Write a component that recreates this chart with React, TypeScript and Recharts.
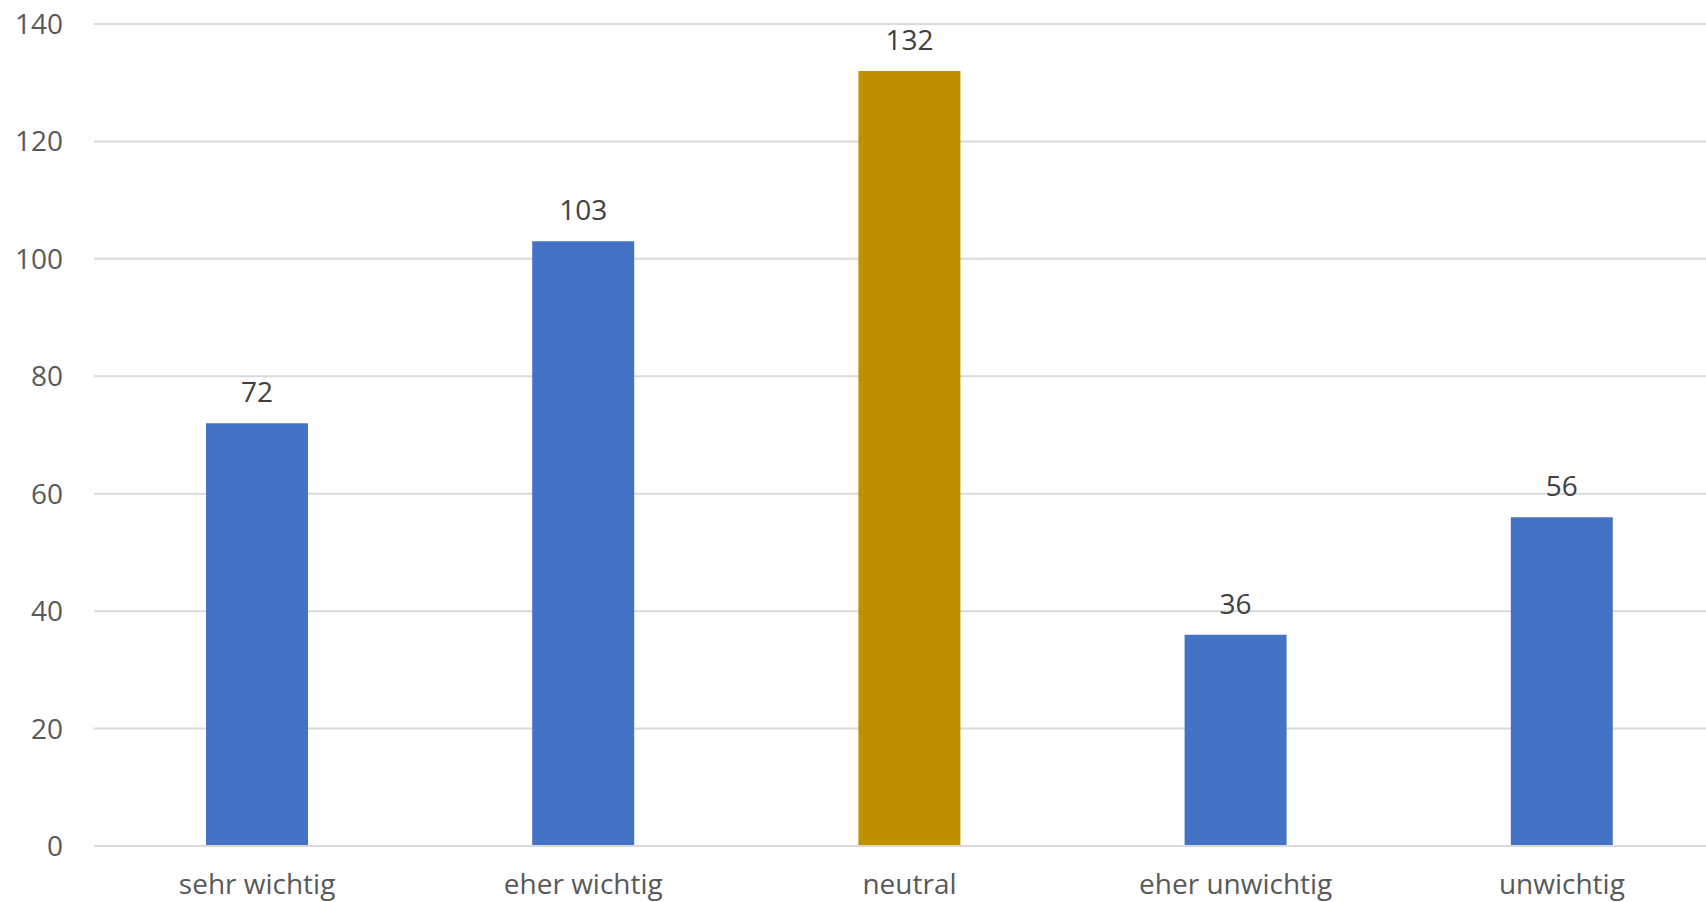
import React from 'react';
import { BarChart, Bar, XAxis, YAxis, CartesianGrid, LabelList, Cell } from 'recharts';

const categories = ['sehr wichtig', 'eher wichtig', 'neutral', 'eher unwichtig', 'unwichtig'];
const counts = [72, 103, 132, 36, 56];
const barColors = ['#4472C4', '#4472C4', '#BF9000', '#4472C4', '#4472C4'];
const yTicks = [0, 20, 40, 60, 80, 100, 120, 140];

const data = categories.map((name, i) => ({ name, value: counts[i] }));

const FONT = '"Open Sans", sans-serif';

export default function App() {
  return (
    <div style={{ position: 'absolute', left: 0, top: 0, width: 1706, height: 902, overflow: 'hidden', background: '#fff' }}>
      <BarChart
        width={1725}
        height={902}
        data={data}
        margin={{ top: 24, right: 0, left: 0, bottom: 0 }}
        barSize={102}
      >
        <CartesianGrid vertical={false} stroke="#D9D9D9" strokeWidth={2} />
        <XAxis
          dataKey="name"
          height={56}
          axisLine={{ stroke: '#D9D9D9', strokeWidth: 2 }}
          tickLine={false}
          tickSize={0}
          tickMargin={28}
          interval={0}
          tick={{ fill: '#595959', fontSize: 28, fontFamily: FONT }}
        />
        <YAxis
          width={94}
          domain={[0, 140]}
          ticks={yTicks}
          axisLine={false}
          tickLine={false}
          tickSize={0}
          tickMargin={31}
          tick={{ fill: '#595959', fontSize: 28, fontFamily: FONT }}
        />
        <Bar dataKey="value" isAnimationActive={false}>
          {data.map((d, i) => (
            <Cell key={d.name} fill={barColors[i]} />
          ))}
          <LabelList dataKey="value" position="top" offset={21} fill="#404040" fontSize={28} fontFamily={FONT} />
        </Bar>
      </BarChart>
    </div>
  );
}
